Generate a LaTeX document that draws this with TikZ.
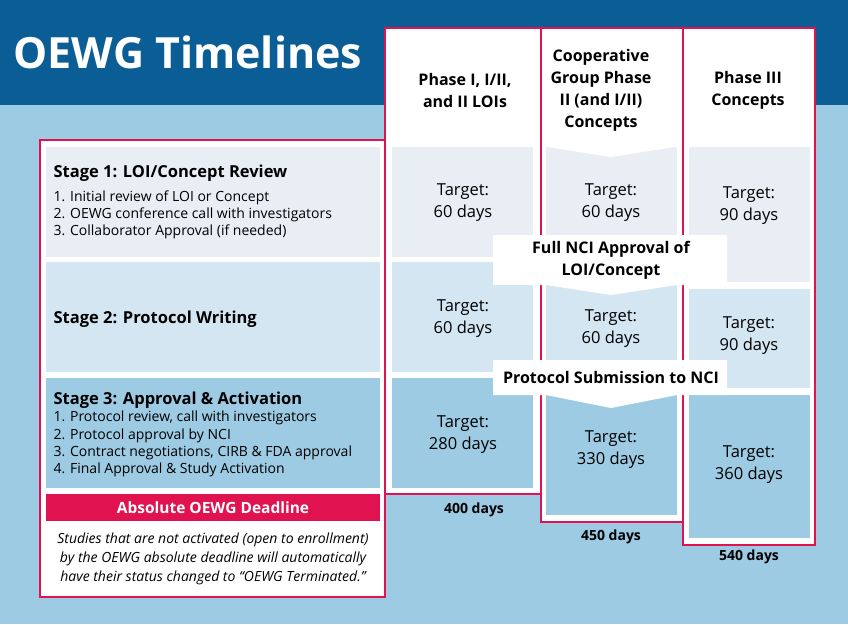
\documentclass[tikz,border=0pt]{standalone}
\usepackage{fontspec}
\setmainfont{Open Sans}
\begin{document}
\begin{tikzpicture}[x=1pt,y=-1pt,
  pinkc/.style={draw=pk,line width=2pt},
  tgt/.style={align=center,font=\fontsize{16.5}{22}\selectfont},
  hdr/.style={align=center,font=\fontsize{16}{22}\selectfont\bfseries},
  lst/.style={anchor=west,font=\fontsize{14}{17}\selectfont},
  stg/.style={anchor=west,font=\fontsize{16.5}{20}\selectfont\bfseries}]
\definecolor{bg}{HTML}{9DCBE3}
\definecolor{dk}{HTML}{0B5E95}
\definecolor{pk}{HTML}{E0124F}
\definecolor{sa}{HTML}{E8EEF3}
\definecolor{sb}{HTML}{D4E6F2}
\definecolor{sc}{HTML}{9DCBE3}
\useasboundingbox (0,0) rectangle (848,624);
\fill[bg] (0,0) rectangle (848,624);
\fill[dk] (0,0) rectangle (848,105);
\node[anchor=west,text=white,font=\fontsize{43}{46}\selectfont\bfseries] (title) at (10,52) {OEWG Timelines};
% white areas
\fill[white] (40,140) rectangle (385,597);
\fill[white] (385,28) rectangle (541,494);
\fill[white] (541,28) rectangle (683,522);
\fill[white] (683,28) rectangle (815,545);
% stage boxes left
\fill[sa] (46,147) rectangle (380,257);
\fill[sb] (46,262) rectangle (380,372);
\fill[sc] (46,378) rectangle (380,488);
% col1
\fill[sa] (392,147) rectangle (533,257);
\fill[sb] (392,262) rectangle (533,372);
\fill[sc] (392,378) rectangle (533,488);
% col2
\fill[sa] (546,147) rectangle (677,235);
\fill[sb] (546,280) rectangle (677,360);
\fill[sc] (546,395) rectangle (677,515);
% col3
\fill[sa] (689,147) rectangle (810,282);
\fill[sb] (689,289) rectangle (810,388);
\fill[sc] (689,395) rectangle (810,538);
% borders
\draw[pinkc] (40,140) rectangle (385,597);
\draw[pinkc] (385,28) rectangle (541,494);
\draw[pinkc] (541,28) rectangle (683,522);
\draw[pinkc] (683,28) rectangle (815,545);
% chevrons
\fill[white] (548,140) -- (675,140) -- (675,147) -- (611,157) -- (548,147) -- cycle;
\fill[white] (493,235) -- (727,235) -- (727,285) -- (677,285) -- (611,295) -- (546,285) -- (493,285) -- cycle;
\fill[white] (493,360) -- (727,360) -- (727,395) -- (677,395) -- (611,408) -- (546,395) -- (493,395) -- cycle;
\node[hdr] (h1) at (465,90) {Phase I, I/II,\\and II LOIs};
\node[hdr] (h2) at (601,90) {Cooperative\\Group Phase\\II (and I/II)\\Concepts};
\node[hdr] (h3) at (748,90) {Phase III\\Concepts};
\node[hdr] (b1) at (611,260) {Full NCI Approval of\\LOI/Concept};
\node[hdr] (b2) at (611,377) {Protocol Submission to NCI};
% stage texts
\node[stg] (s1) at (50,173) {Stage 1: LOI/Concept Review};
\node[lst] (l11) at (50,198) {1. Initial review of LOI or Concept};
\node[lst] (l12) at (50,215) {2. OEWG conference call with investigators};
\node[lst] (l13) at (50,232) {3. Collaborator Approval (if needed)};
\node[stg] (s2) at (50,319) {Stage 2: Protocol Writing};
\node[stg] (s3) at (50,400) {Stage 3: Approval \& Activation};
\node[lst] (l31) at (50,418) {1. Protocol review, call with investigators};
\node[lst] (l32) at (50,436) {2. Protocol approval by NCI};
\node[lst] (l33) at (50,453) {3. Contract negotiations, CIRB \& FDA approval};
\node[lst] (l34) at (50,470) {4. Final Approval \& Study Activation};
% targets
\node[tgt] (t11) at (463,203) {Target:\\60 days};
\node[tgt] (t12) at (463,319) {Target:\\60 days};
\node[tgt] (t13) at (463,435) {Target:\\280 days};
\node[tgt] (t21) at (611,203) {Target:\\60 days};
\node[tgt] (t22) at (611,329) {Target:\\60 days};
\node[tgt] (t23) at (611,450) {Target:\\330 days};
\node[tgt] (t31) at (749,206) {Target:\\90 days};
\node[tgt] (t32) at (749,336) {Target:\\90 days};
\node[tgt] (t33) at (749,465) {Target:\\360 days};
% deadline
\fill[pk] (46,494) rectangle (380,521);
\node[text=white,font=\fontsize{15.5}{18}\selectfont\bfseries] (dl) at (213,508) {Absolute OEWG Deadline};
\node[align=center,font=\fontsize{14}{19}\selectfont\itshape] (note) at (213,559) {Studies that are not activated (open to enrollment)\\by the OEWG absolute deadline will automatically\\have their status changed to “OEWG Terminated.”};
\node[font=\fontsize{14}{16}\selectfont\bfseries] (d1) at (474,510) {400 days};
\node[font=\fontsize{14}{16}\selectfont\bfseries] (d2) at (611,537) {450 days};
\node[font=\fontsize{14}{16}\selectfont\bfseries] (d3) at (749,557) {540 days};
\end{tikzpicture}
\end{document}
